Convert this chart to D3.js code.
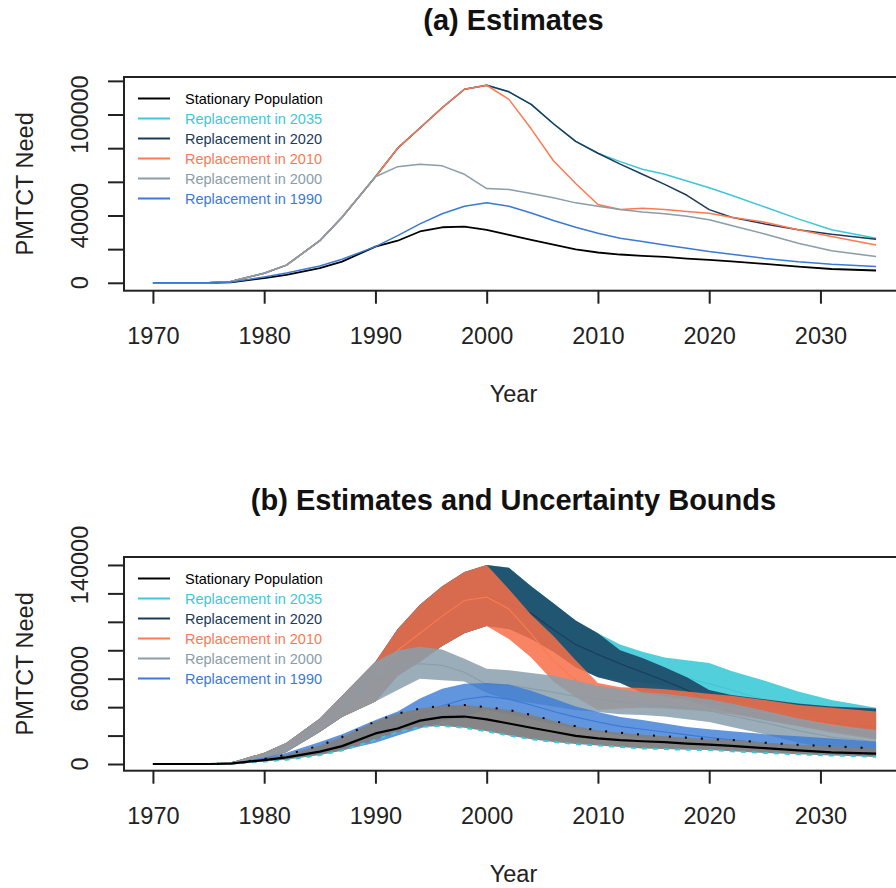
<!DOCTYPE html>
<html>
<head>
<meta charset="utf-8">
<script src="https://cdn.jsdelivr.net/npm/d3@7"></script>
<style>
  html, body { margin: 0; padding: 0; background: #fff; }
  svg { display: block; font-family: "Liberation Sans", Arial, sans-serif; }
</style>
</head>
<body>
<svg id="chart" width="896" height="888"></svg>
<script>
// years shared by every series
const years = [1970, 1975, 1977, 1980, 1982, 1985, 1987, 1990, 1992, 1994, 1996, 1998, 2000, 2002,
               2004, 2006, 2008, 2010, 2012, 2014, 2016, 2018, 2020, 2022, 2025, 2028, 2031, 2035];

// point estimates (PMTCT need)
const stationary = [0, 0, 300, 2800, 4700, 8700, 12600, 21500, 25000, 30500, 33000, 33400, 31400, 28500,
                    25500, 22700, 19800, 18000, 16800, 16000, 15400, 14400, 13600, 12700, 11200, 9600, 8200, 7300];
const rep2035 = [0, 0, 800, 5700, 10500, 25000, 39000, 63000, 80000, 92000, 104000, 115000, 117400, 113500,
                 106000, 94500, 84000, 77000, 72000, 67500, 64500, 60500, 56500, 52000, 45000, 38000, 31500, 26500];
const rep2020 = [0, 0, 800, 5700, 10500, 25000, 39000, 63000, 80000, 92000, 104000, 115000, 117400, 113500,
                 106000, 94500, 84000, 77000, 70500, 64500, 58500, 52000, 43500, 39000, 35000, 31500, 28800, 25900];
const rep2010 = [0, 0, 800, 5700, 10500, 25000, 39000, 63000, 80000, 92000, 104000, 115000, 117400, 109000,
                 91500, 72500, 59000, 46500, 43500, 44300, 43500, 42300, 41300, 39000, 36000, 31500, 27500, 22500];
const rep2000 = [0, 0, 800, 5700, 10500, 25000, 39000, 63000, 69000, 70500, 69500, 64500, 56000, 55500,
                 53000, 50500, 47500, 45500, 43500, 42000, 41000, 39500, 37500, 34000, 29000, 23500, 19000, 15600];
const rep1990 = [0, 0, 400, 3500, 5800, 10000, 14000, 21500, 28000, 35000, 41000, 45500, 47600, 45500,
                 41500, 37000, 33000, 29500, 26500, 24500, 22500, 20500, 18600, 17000, 14500, 12500, 11000, 9700];

// uncertainty bounds
const stationaryLo = [0, 0, 200, 1800, 3000, 6300, 9500, 17000, 22500, 26000, 26800, 25500, 23000, 20000,
                      17500, 15500, 14000, 13000, 12000, 11000, 10500, 10000, 9800, 9000, 7800, 6800, 6000, 5100];
const stationaryHi = [0, 0, 500, 3500, 6500, 13000, 19000, 30000, 35500, 39000, 41000, 41500, 40000, 38000,
                      34500, 30500, 26500, 23500, 22000, 20500, 19500, 18500, 17500, 17000, 15000, 13500, 12500, 11000];
const rep1990Lo = [0, 0, 200, 2500, 4000, 6500, 9500, 15000, 20000, 25000, 30000, 34000, 38000, 35000,
                   31500, 28000, 25000, 22500, 20000, 18000, 16500, 15000, 13500, 12000, 10000, 8500, 7000, 5000];
const rep1990Hi = [0, 0, 600, 4500, 8000, 15500, 21000, 31000, 37000, 46000, 53000, 56500, 57000, 56000,
                   51500, 46000, 40500, 36500, 33000, 31000, 28500, 26000, 24500, 23000, 21000, 19500, 18000, 15700];
const rep2000Lo = [0, 0, 500, 3500, 8500, 22500, 33000, 44000, 52000, 60000, 59000, 58000, 50000, 45000,
                   43000, 40500, 38000, 36500, 35000, 34500, 33500, 31500, 29500, 26000, 21000, 15000, 11000, 7000];
const rep2000Hi = [0, 0, 1000, 8000, 15000, 32000, 48000, 72000, 80000, 82500, 80500, 74000, 67000, 66000,
                   64000, 62000, 58500, 55000, 52500, 50500, 49500, 47500, 45500, 42500, 37500, 32000, 27500, 24000];
const rep2010Lo = [0, 0, 500, 3500, 8500, 22500, 33000, 44000, 62000, 72000, 83000, 92000, 97000, 88000,
                   75000, 58000, 47000, 38000, 39000, 39500, 39000, 38000, 37000, 35000, 31000, 26500, 22000, 17000];
const rep2010Hi = [0, 0, 1000, 8000, 15000, 32000, 48000, 72000, 95000, 112000, 125000, 135000, 140000, 123000,
                   105000, 90000, 73000, 57000, 54000, 53500, 52500, 51000, 49500, 48000, 45000, 41500, 39500, 37000];
const rep2020Lo = [0, 0, 500, 3500, 8500, 22500, 33000, 44000, 62000, 72000, 83000, 92000, 97000, 95000,
                   88000, 79000, 68000, 61000, 57000, 50000, 47500, 45000, 40000, 36000, 31000, 27000, 23000, 18000];
const rep2020Hi = [0, 0, 1000, 8000, 15000, 32000, 48000, 72000, 95000, 112000, 125000, 135000, 140000, 138000,
                   125000, 113000, 101000, 92000, 80000, 74500, 68000, 61000, 52000, 48500, 45500, 42500, 40500, 39000];
const rep2035Lo = [0, 0, 500, 3500, 8500, 22500, 33000, 44000, 62000, 72000, 83000, 92000, 97000, 95000,
                   88000, 79000, 68000, 61000, 59000, 57000, 54500, 51500, 48000, 44500, 40000, 35000, 30000, 24000];
const rep2035Hi = [0, 0, 1000, 8000, 15000, 32000, 48000, 72000, 95000, 112000, 125000, 135000, 140000, 138000,
                   125000, 113000, 101000, 92000, 84000, 79000, 75000, 73000, 71000, 65500, 58500, 51000, 45000, 39500];

// axis ticks and the labels R chose to print
const xTicks = [1970, 1980, 1990, 2000, 2010, 2020, 2030];
const topTicks = [0, 20000, 40000, 60000, 80000, 100000, 120000];
const topLabels = [0, 40000, 100000];
const botTicks = [0, 20000, 40000, 60000, 80000, 100000, 120000, 140000];
const botLabels = [0, 60000, 140000];

const legendNames = ['Stationary Population', 'Replacement in 2035', 'Replacement in 2020',
                     'Replacement in 2010', 'Replacement in 2000', 'Replacement in 1990'];

const series = [
  { name: legendNames[0], color: '#000000', band: '#7f7f7f', alpha: 0.95, mid: stationary, lo: stationaryLo, hi: stationaryHi },
  { name: legendNames[1], color: '#3ec6d8', band: '#3ecbd8', alpha: 0.9, mid: rep2035, lo: rep2035Lo, hi: rep2035Hi },
  { name: legendNames[2], color: '#1c3a5a', band: '#1f4f6c', alpha: 0.95, mid: rep2020, lo: rep2020Lo, hi: rep2020Hi },
  { name: legendNames[3], color: '#fb7a52', band: '#f86f48', alpha: 0.85, mid: rep2010, lo: rep2010Lo, hi: rep2010Hi },
  { name: legendNames[4], color: '#8a9da8', band: '#8a9fab', alpha: 0.85, mid: rep2000, lo: rep2000Lo, hi: rep2000Hi },
  { name: legendNames[5], color: '#3a7ad6', band: '#3a7ad6', alpha: 0.8, mid: rep1990, lo: rep1990Lo, hi: rep1990Hi }
];

const svg = d3.select('#chart');
const x = d3.scaleLinear().domain([1967.4, 2037.6]).range([124, 905]);
const plotLeft = 124, plotRight = 905;
const midX = (plotLeft + plotRight) / 2;

const panels = [
  { id: 'a', title: '(a) Estimates', top: 77, bottom: 290.7, domain: [-4700, 122300], ticks: topTicks, labels: topLabels, bands: false },
  { id: 'b', title: '(b) Estimates and Uncertainty Bounds', top: 557, bottom: 770.7, domain: [-4700, 145600], ticks: botTicks, labels: botLabels, bands: true }
];

panels.forEach(p => {
  const y = d3.scaleLinear().domain(p.domain).range([p.bottom, p.top]);
  const g = svg.append('g');

  // clip to the plot box
  svg.append('clipPath').attr('id', 'clip-' + p.id)
    .append('rect').attr('x', plotLeft).attr('y', p.top)
    .attr('width', plotRight - plotLeft).attr('height', p.bottom - p.top);
  const plot = g.append('g').attr('clip-path', `url(#clip-${p.id})`);

  const line = arr => d3.line().x((d, i) => x(years[i])).y(d => y(d))(arr);
  const area = (lo, hi) => d3.area().x((d, i) => x(years[i])).y0((d, i) => y(lo[i])).y1(d => y(d))(hi);

  if (!p.bands) {
    // black first, then 2035, 2020, 2010, 2000, 1990 on top
    series.forEach((s, k) => {
      plot.append('path').attr('d', line(s.mid))
        .attr('fill', 'none').attr('stroke', s.color)
        .attr('stroke-width', k === 0 ? 1.8 : 1.5)
        .attr('stroke-linejoin', 'round');
    });
  } else {
    // bands: 2035, 2020, 2010, 2000, 1990, then stationary on top
    const order = [1, 2, 3, 4, 5, 0];
    order.forEach(k => {
      const s = series[k];
      plot.append('path').attr('d', area(s.lo, s.hi))
        .attr('fill', s.band).attr('fill-opacity', s.alpha);
      if (k === 0) {
        plot.append('path').attr('d', line(s.hi))
          .attr('fill', 'none').attr('stroke', '#000')
          .attr('stroke-width', 2).attr('stroke-dasharray', '2,14');
        plot.append('path').attr('d', line(s.lo))
          .attr('fill', 'none').attr('stroke', '#3ec6d8')
          .attr('stroke-width', 2).attr('stroke-dasharray', '5,6');
      }
      plot.append('path').attr('d', line(s.mid))
        .attr('fill', 'none').attr('stroke', s.color)
        .attr('stroke-width', k === 0 ? 2.2 : 1.1)
        .attr('stroke-linejoin', 'round');
    });
  }

  // frame
  g.append('rect').attr('x', plotLeft).attr('y', p.top)
    .attr('width', plotRight - plotLeft).attr('height', p.bottom - p.top)
    .attr('fill', 'none').attr('stroke', '#222').attr('stroke-width', 2);

  // x axis
  const xa = g.append('g').attr('transform', `translate(0,${p.bottom})`)
    .call(d3.axisBottom(x).tickValues(xTicks).tickFormat(d3.format('d')).tickSize(13).tickPadding(24));
  xa.select('.domain').remove();
  xa.selectAll('.tick line').attr('stroke', '#222').attr('stroke-width', 2);
  xa.selectAll('.tick text').attr('font-size', '23.5px').attr('fill', '#222')
    .attr('font-family', '"Liberation Sans", Arial, sans-serif');

  // y axis (labels rotated as in base R)
  const ya = g.append('g').attr('transform', `translate(${plotLeft},0)`)
    .call(d3.axisLeft(y).tickValues(p.ticks).tickSize(16).tickFormat(''));
  ya.select('.domain').remove();
  ya.selectAll('.tick line').attr('stroke', '#222').attr('stroke-width', 2);
  g.selectAll('text.ylab').data(p.labels).join('text')
    .attr('class', 'ylab')
    .attr('transform', d => `translate(88,${y(d)}) rotate(-90)`)
    .attr('text-anchor', 'middle').attr('font-size', '23.5px').attr('fill', '#222')
    .text(d => d);

  // titles
  g.append('text').attr('x', midX - 1).attr('y', p.top - 47)
    .attr('text-anchor', 'middle').attr('font-size', '29px').attr('font-weight', 'bold')
    .attr('fill', '#111').text(p.title);
  g.append('text').attr('x', midX - 1).attr('y', p.bottom + 111)
    .attr('text-anchor', 'middle').attr('font-size', '23.5px').attr('fill', '#222').text('Year');
  g.append('text').attr('transform', `translate(33,${(p.top + p.bottom) / 2}) rotate(-90)`)
    .attr('text-anchor', 'middle').attr('font-size', '23.5px').attr('fill', '#222').text('PMTCT Need');

  // legend
  const lg = g.append('g').attr('transform', `translate(0,${p.top + 21.5})`);
  series.forEach((s, k) => {
    lg.append('line').attr('x1', 138).attr('x2', 170)
      .attr('y1', k * 20).attr('y2', k * 20)
      .attr('stroke', s.color).attr('stroke-width', 2);
    lg.append('text').attr('x', 185).attr('y', k * 20 + 5)
      .attr('font-size', '14.5px').attr('fill', s.color)
      .text(s.name);
  });
});
</script>
</body>
</html>
